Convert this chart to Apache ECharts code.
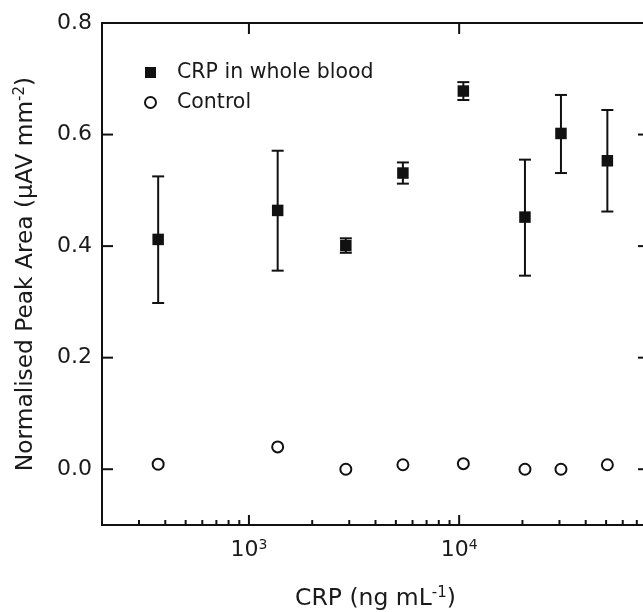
<!DOCTYPE html>
<html>
<head>
<meta charset="utf-8">
<script src="https://cdn.jsdelivr.net/npm/echarts@6/dist/echarts.min.js"></script>
<style>html,body{margin:0;padding:0;background:#fff}#c{width:643px;height:612px}</style>
</head>
<body>
<div id="c"></div>
<script>
// ---- data ----
const concentrations = [370, 1370, 2890, 5400, 10470, 20560, 30500, 50700];
const crpMean = [0.412, 0.464, 0.401, 0.531, 0.678, 0.452, 0.602, 0.553];
const crpLow  = [0.298, 0.356, 0.388, 0.512, 0.662, 0.347, 0.531, 0.462];
const crpHigh = [0.525, 0.571, 0.414, 0.550, 0.694, 0.555, 0.671, 0.644];
const controlValues = [0.009, 0.040, 0.000, 0.008, 0.010, 0.000, 0.000, 0.008];
const seriesNames = ['CRP in whole blood', 'Control'];
const xMajorTicks = [1000, 10000];
const xMinorTicks = [300, 400, 500, 600, 700, 800, 900, 2000, 3000, 4000, 5000, 6000, 7000, 8000, 9000, 20000, 30000, 40000, 50000, 60000, 70000];
const yTicks = [0.0, 0.2, 0.4, 0.6, 0.8];
const xMin = 200, xMax = 80000, yMin = -0.1, yMax = 0.8;

const FONT = 'DejaVu Sans';
const TXT = '#1a1a1a';

const chart = echarts.init(document.getElementById('c'), null, {renderer: 'canvas'});

function lineEl(x1, y1, x2, y2) {
  return {type: 'line', shape: {x1, y1, x2, y2}, style: {stroke: '#111', lineWidth: 2}};
}

function renderErr(params, api) {
  const x = api.value(0), lo = api.value(1), hi = api.value(2);
  const p1 = api.coord([x, lo]), p2 = api.coord([x, hi]);
  const hw = 6;
  return {type: 'group', children: [
    lineEl(p1[0], p1[1], p2[0], p2[1]),
    lineEl(p1[0] - hw, p1[1], p1[0] + hw, p1[1]),
    lineEl(p2[0] - hw, p2[1], p2[0] + hw, p2[1])
  ]};
}

function renderYTicks(params, api) {
  const cs = params.coordSys;
  const c = api.coord([api.value(0), api.value(1)]);
  return {type: 'group', children: [
    lineEl(cs.x, c[1], cs.x + 11, c[1]),
    lineEl(cs.x + cs.width - 11, c[1], cs.x + cs.width, c[1])
  ]};
}
function renderXMajor(params, api) {
  const cs = params.coordSys;
  const c = api.coord([api.value(0), api.value(1)]);
  return {type: 'group', children: [
    lineEl(c[0], cs.y + cs.height, c[0], cs.y + cs.height - 10),
    lineEl(c[0], cs.y, c[0], cs.y + 11)
  ]};
}
function renderXMinor(params, api) {
  const cs = params.coordSys;
  const c = api.coord([api.value(0), api.value(1)]);
  return lineEl(c[0], cs.y + cs.height, c[0], cs.y + cs.height - 5);
}

const isPow10 = v => Math.abs(Math.log10(v) - Math.round(Math.log10(v))) < 1e-6;

const option = {
  animation: false,
  backgroundColor: '#fff',
  textStyle: {fontFamily: FONT},
  grid: {left: 102, top: 23, width: 547, height: 502, show: true, borderColor: '#111', borderWidth: 2, backgroundColor: 'transparent', containLabel: false, outerBoundsMode: 'none'},
  legend: {
    orient: 'vertical', left: 139, top: 57, itemWidth: 11, itemHeight: 11, itemGap: 9,
    data: [{name: seriesNames[0], icon: 'rect'}, {name: seriesNames[1], icon: 'circle'}],
    textStyle: {fontFamily: FONT, fontSize: 20.5, color: TXT, padding: [0, 0, 0, 16]}
  },
  xAxis: {
    type: 'log', min: xMin, max: xMax, logBase: 10,
    axisLine: {show: false}, axisTick: {show: false}, splitLine: {show: false}, minorTick: {show: false},
    axisLabel: {
      margin: 13, color: TXT, fontFamily: FONT, fontSize: 22,
      showMinLabel: false, showMaxLabel: false,
      formatter: v => isPow10(v) ? '10{sup|' + Math.round(Math.log10(v)) + '}' : '',
      rich: {sup: {fontSize: 14, color: TXT, fontFamily: FONT, verticalAlign: 'top', padding: [0, 0, 11, 0]}}
    },
    name: 'CRP (ng mL{sup|-1})', nameLocation: 'middle', nameGap: 61,
    nameTextStyle: {fontSize: 23.5, color: TXT, fontFamily: FONT,
      rich: {sup: {fontSize: 15, color: TXT, fontFamily: FONT, padding: [0, 0, 11, 0]}}}
  },
  yAxis: {
    type: 'value', min: yMin, max: yMax, interval: 0.1,
    axisLine: {show: false}, axisTick: {show: false}, splitLine: {show: false},
    axisLabel: {
      margin: 10, color: TXT, fontFamily: FONT, fontSize: 22,
      formatter: v => (Math.round(v * 10) % 2 === 0 && v > -0.05) ? v.toFixed(1) : ''
    },
    name: 'Normalised Peak Area (μAV mm{sup|-2})', nameLocation: 'middle', nameGap: 63, nameRotate: 90,
    nameTextStyle: {fontSize: 23.3, color: TXT, fontFamily: FONT,
      rich: {sup: {fontSize: 15, color: TXT, fontFamily: FONT, padding: [0, 0, 11, 0]}}}
  },
  series: [
    {
      name: 'yticks', type: 'custom', renderItem: renderYTicks, silent: true, clip: false, z: 5,
      data: yTicks.map(v => [xMin, v])
    },
    {
      name: 'xmajor', type: 'custom', renderItem: renderXMajor, silent: true, clip: false, z: 5,
      data: xMajorTicks.map(v => [v, yMin])
    },
    {
      name: 'xminor', type: 'custom', renderItem: renderXMinor, silent: true, clip: false, z: 5,
      data: xMinorTicks.map(v => [v, yMin])
    },
    {
      name: 'errors', type: 'custom', renderItem: renderErr, silent: true, z: 2,
      encode: {x: 0, y: [1, 2]},
      data: concentrations.map((x, i) => [x, crpLow[i], crpHigh[i]])
    },
    {
      name: seriesNames[0], type: 'scatter', symbol: 'rect', symbolSize: 11.5, z: 3,
      itemStyle: {color: '#111', opacity: 1},
      data: concentrations.map((x, i) => [x, crpMean[i]])
    },
    {
      name: seriesNames[1], type: 'scatter', symbol: 'circle', symbolSize: 11, z: 3,
      itemStyle: {color: '#fff', borderColor: '#111', borderWidth: 2, opacity: 1},
      data: concentrations.map((x, i) => [x, controlValues[i]])
    }
  ]
};
chart.setOption(option);
</script>
</body>
</html>
